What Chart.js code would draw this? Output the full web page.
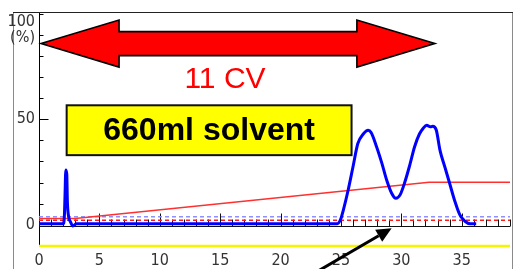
<!DOCTYPE html>
<html><head><meta charset="utf-8">
<script src="https://cdn.jsdelivr.net/npm/chart.js@4.4.0/dist/chart.umd.min.js"></script>
<style>html,body{margin:0;padding:0;background:#fff;overflow:hidden}#wrap{width:515px;height:269px;position:relative}</style>
</head><body><div id="wrap"><canvas id="c" width="515" height="269"></canvas></div>
<script>
// ---- data ----
const uvTime = [0, 2.0, 2.1, 2.15, 2.22, 2.3, 2.35, 2.45, 2.6, 2.8, 3.1, 24.7, 25.0, 25.2, 25.6, 26.0, 26.4, 26.85, 27.26, 27.5, 27.95, 28.4, 28.8, 29.2, 29.55, 29.9, 30.3, 30.7, 31.1, 31.5, 31.8, 32.1, 32.4, 32.6, 32.9, 33.2, 33.6, 34.0, 34.4, 34.85, 35.3, 35.7, 36.2];
const uvPercent = [0.5, 0.5, 4, 13, 26, 24, 11, 4, 1.5, -0.5, 0.5, 0.5, 3, 7, 16.5, 27.5, 38.5, 43, 44.8, 43.7, 37, 29, 21, 15, 12.6, 14.2, 20.4, 28.3, 37, 43, 45.6, 47.2, 46.4, 46.7, 44.8, 35.4, 27.5, 19.7, 11.8, 4.7, 1.6, 0.5, 0.5];
const gradientTime = [0, 3, 32.3, 39];
const gradientPercent = [3, 3, 20.2, 20.2];
const thresholdTime = [0, 39];
const redThreshold = [2.2, 2.2];
const blueThreshold = [3.8, 3.8];
const yellowLevel = [-10, -10];
const timeAxisLevel = -0.6;
const xTickValues = [0, 5, 10, 15, 20, 25, 30, 35];
const xTickLabels = ['0', '5', '10', '15', '20', '25', '30', '35'];
const yTickValues = [0, 50];
const yTickLabels = ['0', '50'];
const yTopLabel = ['100', '(%)'];
const arrowSpan = [0.17, 32.78];
const arrowLevel = 85.8;
const arrowText = '11 CV';
const arrowTextPos = [15.4, 68.8];
const boxSpan = [2.29, 25.88];
const boxLevels = [56.6, 33];
const boxText = '660ml solvent';
const pointerTip = [29.2, -1.6];
const pointerTail = [22.4, -24.2];

const pts = (xs, ys) => xs.map((v, i) => ({x: v, y: ys[i]}));
const AXIS_FONT = "'Liberation Sans Narrow','DejaVu Sans Condensed','Liberation Sans',sans-serif";

const framePlugin = {
  id: 'frame',
  beforeDraw(chart) {
    const {ctx, width, height} = chart;
    ctx.save();
    ctx.fillStyle = '#fff';
    ctx.fillRect(0, 0, width, height);
    ctx.lineWidth = 1;
    ctx.strokeStyle = '#8a8a8a';
    ctx.beginPath();
    ctx.moveTo(13.5, 12.5); ctx.lineTo(13.5, height);
    ctx.moveTo(512.5, 12.5); ctx.lineTo(512.5, height);
    ctx.stroke();
    ctx.strokeStyle = '#222';
    ctx.beginPath();
    ctx.moveTo(13, 12.5); ctx.lineTo(513, 12.5);
    ctx.stroke();
    ctx.restore();
  },
  beforeDatasetsDraw(chart) {
    const {ctx, scales: {x, y}} = chart;
    ctx.save();
    // time axis with ticks
    const ty = Math.round(y.getPixelForValue(timeAxisLevel)) + 0.5;
    ctx.strokeStyle = '#111';
    ctx.lineWidth = 1;
    ctx.beginPath();
    ctx.moveTo(x.getPixelForValue(x.min), ty);
    ctx.lineTo(x.getPixelForValue(x.max), ty);
    for (let t = 0; t <= x.max; t++) {
      const px = Math.round(x.getPixelForValue(t)) + 0.5;
      const len = (t % 5 === 0) ? 13 : 7;
      ctx.moveTo(px, ty);
      ctx.lineTo(px, ty - len);
    }
    ctx.stroke();
    // y-axis inward ticks
    const ax = Math.round(x.left) + 0.5;
    ctx.strokeStyle = '#000';
    ctx.beginPath();
    for (let v = 10; v <= 100; v += 10) {
      const py = Math.round(y.getPixelForValue(v)) + 0.5;
      const len = (v === 50) ? 9 : 4;
      ctx.moveTo(ax, py);
      ctx.lineTo(ax + len, py);
    }
    ctx.stroke();
    // 100 (%) label
    ctx.fillStyle = '#333';
    ctx.font = "16px " + AXIS_FONT;
    ctx.textAlign = 'right';
    ctx.textBaseline = 'middle';
    const p100 = y.getPixelForValue(100);
    ctx.fillText(yTopLabel[0], x.left - 4, p100 + 8);
    ctx.fillText(yTopLabel[1], x.left - 4, p100 + 24);
    ctx.restore();
  },
  afterDraw(chart) {
    const {ctx, scales: {x, y}} = chart;
    ctx.save();
    // red double arrow
    const xl = x.getPixelForValue(arrowSpan[0]), xr = x.getPixelForValue(arrowSpan[1]);
    const yc = y.getPixelForValue(arrowLevel);
    const hl = 78, hh = 23.5, sh = 12;
    ctx.beginPath();
    ctx.moveTo(xl, yc);
    ctx.lineTo(xl + hl, yc - hh);
    ctx.lineTo(xl + hl, yc - sh);
    ctx.lineTo(xr - hl, yc - sh);
    ctx.lineTo(xr - hl, yc - hh);
    ctx.lineTo(xr, yc);
    ctx.lineTo(xr - hl, yc + hh);
    ctx.lineTo(xr - hl, yc + sh);
    ctx.lineTo(xl + hl, yc + sh);
    ctx.lineTo(xl + hl, yc + hh);
    ctx.closePath();
    ctx.fillStyle = '#ff0000';
    ctx.fill();
    ctx.lineWidth = 1.6;
    ctx.strokeStyle = '#000';
    ctx.lineJoin = 'miter';
    ctx.stroke();
    // 11 CV
    ctx.fillStyle = '#ff0000';
    ctx.font = "30px 'Liberation Sans', Arial, sans-serif";
    ctx.textAlign = 'center';
    ctx.textBaseline = 'middle';
    ctx.fillText(arrowText, x.getPixelForValue(arrowTextPos[0]), y.getPixelForValue(arrowTextPos[1]));
    // yellow box
    const bx1 = x.getPixelForValue(boxSpan[0]), bx2 = x.getPixelForValue(boxSpan[1]);
    const by1 = y.getPixelForValue(boxLevels[0]), by2 = y.getPixelForValue(boxLevels[1]);
    ctx.fillStyle = '#ffff00';
    ctx.fillRect(bx1, by1, bx2 - bx1, by2 - by1);
    ctx.lineWidth = 2;
    ctx.strokeStyle = '#111';
    ctx.strokeRect(bx1, by1, bx2 - bx1, by2 - by1);
    ctx.fillStyle = '#000';
    ctx.font = "bold 32px 'Liberation Sans', Arial, sans-serif";
    ctx.fillText(boxText, (bx1 + bx2) / 2, (by1 + by2) / 2 + 1);
    // black pointer arrow
    const tx = x.getPixelForValue(pointerTip[0]), tyy = y.getPixelForValue(pointerTip[1]);
    const sx = x.getPixelForValue(pointerTail[0]), sy = y.getPixelForValue(pointerTail[1]);
    const ang = Math.atan2(tyy - sy, tx - sx);
    const L = 15, W = 7;
    const bxp = tx - L * Math.cos(ang), byp = tyy - L * Math.sin(ang);
    ctx.strokeStyle = '#000';
    ctx.lineWidth = 3;
    ctx.beginPath();
    ctx.moveTo(sx, sy); ctx.lineTo(bxp, byp);
    ctx.stroke();
    ctx.fillStyle = '#000';
    ctx.beginPath();
    ctx.moveTo(tx, tyy);
    ctx.lineTo(bxp + W * Math.sin(ang), byp - W * Math.cos(ang));
    ctx.lineTo(bxp - W * Math.sin(ang), byp + W * Math.cos(ang));
    ctx.closePath();
    ctx.fill();
    ctx.restore();
  }
};

new Chart(document.getElementById('c'), {
  type: 'line',
  data: {
    datasets: [
      {label: 'yellow', data: pts(thresholdTime, yellowLevel), borderColor: '#f5f500', borderWidth: 2.5, pointRadius: 0, clip: 4, order: 5},
      {label: 'blue threshold', data: pts(thresholdTime, blueThreshold), borderColor: '#8f8fff', borderWidth: 1.5, borderDash: [4, 3], pointRadius: 0, order: 4},
      {label: 'red threshold', data: pts(thresholdTime, redThreshold), borderColor: '#ff1a1a', borderWidth: 1.5, borderDash: [4, 3], pointRadius: 0, order: 3},
      {label: 'gradient', data: pts(gradientTime, gradientPercent), borderColor: '#ff3030', borderWidth: 1.5, pointRadius: 0, order: 2},
      {label: 'UV', data: pts(uvTime, uvPercent), borderColor: '#0000ff', borderWidth: 3, pointRadius: 0, tension: 0.35, cubicInterpolationMode: 'monotone', order: 1}
    ]
  },
  options: {
    responsive: false,
    animation: false,
    devicePixelRatio: 1,
    layout: {padding: {top: 13, right: 5, left: 0, bottom: 0}},
    plugins: {legend: {display: false}, tooltip: {enabled: false}},
    scales: {
      x: {
        type: 'linear', min: 0, max: 39,
        grid: {display: false, drawTicks: false},
        border: {display: false},
        afterBuildTicks: s => { s.ticks = xTickValues.map(v => ({value: v})); },
        afterFit: s => { s.height = 23; },
        ticks: {
          padding: 5, color: '#333', maxRotation: 0, autoSkip: false,
          font: {family: AXIS_FONT, size: 16},
          callback: (v) => xTickLabels[xTickValues.indexOf(v)]
        }
      },
      y: {
        type: 'linear', min: -10, max: 100,
        grid: {display: false, drawTicks: false},
        border: {display: true, color: '#000', width: 1},
        afterBuildTicks: s => { s.ticks = yTickValues.map(v => ({value: v})); },
        afterFit: s => { s.width = 39; },
        ticks: {
          padding: 4, color: '#333',
          font: {family: AXIS_FONT, size: 16},
          callback: (v) => yTickLabels[yTickValues.indexOf(v)]
        }
      }
    }
  },
  plugins: [framePlugin]
});
</script>
</body></html>
